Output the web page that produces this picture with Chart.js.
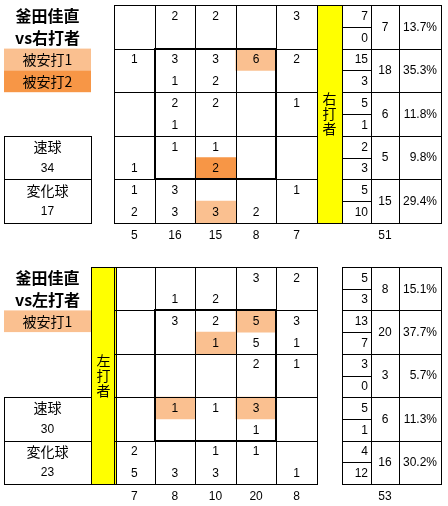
<!DOCTYPE html>
<html>
<head>
<meta charset="utf-8">
<script src="https://cdn.jsdelivr.net/npm/chart.js"></script>
<style>
  body { margin: 0; background: #fff; }
  #wrap { width: 448px; height: 506px; }
</style>
</head>
<body>
<div id="wrap"><canvas id="sheet"></canvas></div>
<script>
// ---- data ----
const pitcher = '釜田佳直';
const sideLabels = ['右打者', '左打者'];
const pitchLabels = ['速球', '変化球'];
const hitLabels = ['被安打1', '被安打2'];

// 5x5 zone, row 0 = high, col 0 = left; [fastball count, breaking count]
const rightFast = [
  [null, 2, 2, null, 3],
  [1, 3, 3, 6, 2],
  [null, 2, 2, null, 1],
  [null, 1, 1, null, null],
  [1, 3, null, null, 1]
];
const rightBreak = [
  [null, null, null, null, null],
  [null, 1, 2, null, null],
  [null, 1, null, null, null],
  [1, null, 2, null, null],
  [2, 3, 3, 2, null]
];
const rightFastHit = [
  [0, 0, 0, 0, 0],
  [0, 0, 0, 1, 0],
  [0, 0, 0, 0, 0],
  [0, 0, 0, 0, 0],
  [0, 0, 0, 0, 0]
];
const rightBreakHit = [
  [0, 0, 0, 0, 0],
  [0, 0, 0, 0, 0],
  [0, 0, 0, 0, 0],
  [0, 0, 2, 0, 0],
  [0, 0, 1, 0, 0]
];

const leftFast = [
  [null, null, null, 3, 2],
  [null, 3, 2, 5, 3],
  [null, null, null, 2, 1],
  [null, 1, 1, 3, null],
  [2, null, 1, 1, null]
];
const leftBreak = [
  [null, 1, 2, null, null],
  [null, null, 1, 5, 1],
  [null, null, null, null, null],
  [null, null, null, 1, null],
  [5, 3, 3, null, 1]
];
const leftFastHit = [
  [0, 0, 0, 0, 0],
  [0, 0, 0, 1, 0],
  [0, 0, 0, 0, 0],
  [0, 1, 0, 1, 0],
  [0, 0, 0, 0, 0]
];
const leftBreakHit = [
  [0, 0, 0, 0, 0],
  [0, 0, 1, 0, 0],
  [0, 0, 0, 0, 0],
  [0, 0, 0, 0, 0],
  [0, 0, 0, 0, 0]
];

// ---- layout (in canvas units, the scales run 0..448 / 0..506) ----
const hitFill = ['', '#FAC090', '#F79646'];
const GRID_X = 114, COL_W = 40.6, TABLE_X = 342, BOX_X = 4, BOX_W = 87, YEL_W = 25;
const SPLIT_W = 29, TOT_W = 28, PCT_W = 42;
const panels = [
  { side: 0, top: 5, rowH: 43.6, yellowX: 317, fast: rightFast, brk: rightBreak,
    fastHit: rightFastHit, brkHit: rightBreakHit, legend: [1, 2] },
  { side: 1, top: 267, rowH: 43.4, yellowX: 91, fast: leftFast, brk: leftBreak,
    fastHit: leftFastHit, brkHit: leftBreakHit, legend: [1] }
];

const sum = a => a.reduce((s, v) => s + (v || 0), 0);

// cell numbers and hit shading built from the arrays
const numberPoints = [];
const hitBars = [];
panels.forEach(p => {
  [p.fast, p.brk].forEach((grid, half) => {
    const hits = half ? p.brkHit : p.fastHit;
    grid.forEach((row, r) => row.forEach((v, c) => {
      const cx = GRID_X + (c + 0.5) * COL_W;
      const y0 = p.top + r * p.rowH + half * p.rowH / 2;
      if (hits[r][c]) hitBars.push({ x: cx, y: [y0, y0 + p.rowH / 2], level: hits[r][c] });
      if (v != null) numberPoints.push({ x: cx, y: y0 + p.rowH * 0.25 + 0.5, label: String(v) });
    }));
  });
});

const NUM_FONT = '12px "Liberation Sans", Arial, sans-serif';
const JP_FONT = '14px "Noto Sans CJK JP", sans-serif';
const TITLE_FONT = 'bold 16px "Noto Sans CJK JP", sans-serif';

const sheetPlugin = {
  id: 'sheet',
  beforeDatasetsDraw(chart) {
    const ctx = chart.ctx, X = v => chart.scales.x.getPixelForValue(v), Y = v => chart.scales.y.getPixelForValue(v);
    ctx.save();
    panels.forEach(p => {
      const bottom = p.top + 5 * p.rowH;
      ctx.fillStyle = '#FFFF00';
      ctx.fillRect(X(p.yellowX), Y(p.top), X(p.yellowX + YEL_W) - X(p.yellowX), Y(bottom) - Y(p.top));
      p.legend.forEach((lv, k) => {
        const y0 = p.top + p.rowH + k * p.rowH / 2;
        ctx.fillStyle = hitFill[lv];
        ctx.fillRect(X(BOX_X), Y(y0), X(BOX_X + BOX_W) - X(BOX_X), Y(y0 + p.rowH / 2) - Y(y0));
      });
    });
    ctx.restore();
  },
  afterDatasetsDraw(chart) {
    const ctx = chart.ctx, X = v => chart.scales.x.getPixelForValue(v), Y = v => chart.scales.y.getPixelForValue(v);
    const snap = (v, w) => (w % 2 ? Math.round(v) + 0.5 : Math.round(v));
    const hline = (x0, x1, y, w = 1) => {
      ctx.lineWidth = w; ctx.beginPath();
      const yy = snap(Y(y), w);
      ctx.moveTo(Math.round(X(x0)), yy); ctx.lineTo(Math.round(X(x1)) + 1, yy); ctx.stroke();
    };
    const vline = (x, y0, y1, w = 1) => {
      ctx.lineWidth = w; ctx.beginPath();
      const xx = snap(X(x), w);
      ctx.moveTo(xx, Math.round(Y(y0))); ctx.lineTo(xx, Math.round(Y(y1)) + 1); ctx.stroke();
    };
    const text = (s, x, y, font, align = 'center') => {
      ctx.font = font; ctx.textAlign = align; ctx.textBaseline = 'middle';
      ctx.fillText(s, X(x), Y(y));
    };

    ctx.save();
    ctx.strokeStyle = '#000';
    ctx.fillStyle = '#000';

    panels.forEach(p => {
      const top = p.top, rh = p.rowH, bottom = top + 5 * rh;
      const gridR = GRID_X + 5 * COL_W;
      const tableR = TABLE_X + SPLIT_W + TOT_W + PCT_W;

      // zone grid
      for (let r = 0; r <= 5; r++) hline(GRID_X, gridR, top + r * rh);
      for (let c = 0; c <= 5; c++) vline(GRID_X + c * COL_W, top, bottom);
      // yellow side bar outline
      hline(p.yellowX, p.yellowX + YEL_W, top);
      hline(p.yellowX, p.yellowX + YEL_W, bottom);
      vline(p.yellowX, top, bottom);
      vline(p.yellowX + YEL_W, top, bottom);
      // strike zone
      ctx.lineWidth = 2;
      ctx.strokeRect(Math.round(X(GRID_X + COL_W)), Math.round(Y(top + rh)),
        Math.round(X(GRID_X + 4 * COL_W)) - Math.round(X(GRID_X + COL_W)),
        Math.round(Y(top + 4 * rh)) - Math.round(Y(top + rh)));

      // right-hand table
      for (let r = 0; r <= 5; r++) hline(TABLE_X, tableR, top + r * rh);
      for (let r = 0; r < 5; r++) hline(TABLE_X, TABLE_X + SPLIT_W, top + r * rh + rh / 2);
      [0, SPLIT_W, SPLIT_W + TOT_W, SPLIT_W + TOT_W + PCT_W].forEach(dx => vline(TABLE_X + dx, top, bottom));

      // pitch type box
      hline(BOX_X, BOX_X + BOX_W, top + 3 * rh);
      hline(BOX_X, BOX_X + BOX_W, top + 4 * rh);
      hline(BOX_X, BOX_X + BOX_W, bottom);
      vline(BOX_X, top + 3 * rh, bottom);
      vline(BOX_X + BOX_W, top + 3 * rh, bottom);

      // totals
      const grand = sum(p.fast.map(sum)) + sum(p.brk.map(sum));
      const fastTotal = sum(p.fast.map(sum)), brkTotal = sum(p.brk.map(sum));
      for (let r = 0; r < 5; r++) {
        const f = sum(p.fast[r]), b = sum(p.brk[r]), t = f + b;
        text(String(f), TABLE_X + SPLIT_W - 3, top + r * rh + rh * 0.25 + 0.5, NUM_FONT, 'right');
        text(String(b), TABLE_X + SPLIT_W - 3, top + r * rh + rh * 0.75 + 0.5, NUM_FONT, 'right');
        text(String(t), TABLE_X + SPLIT_W + TOT_W / 2, top + r * rh + rh / 2 + 0.5, NUM_FONT);
        text((t / grand * 100).toFixed(1) + '%', tableR - 4, top + r * rh + rh / 2 + 0.5, NUM_FONT, 'right');
      }
      for (let c = 0; c < 5; c++) {
        let t = 0;
        for (let r = 0; r < 5; r++) t += (p.fast[r][c] || 0) + (p.brk[r][c] || 0);
        text(String(t), GRID_X + (c + 0.5) * COL_W, bottom + 12.5, NUM_FONT);
      }
      text(String(grand), TABLE_X + SPLIT_W + TOT_W / 2, bottom + 12.5, NUM_FONT);

      // left labels
      const bx = BOX_X + BOX_W / 2;
      text(pitcher, bx, top + 10.5, TITLE_FONT);
      text('vs' + sideLabels[p.side], bx, top + 32.5, TITLE_FONT);
      p.legend.forEach((lv, k) => text(hitLabels[lv - 1], bx, top + rh + k * rh / 2 + rh / 4 + 0.5, JP_FONT));
      text(pitchLabels[0], bx, top + 3 * rh + rh * 0.25, JP_FONT);
      text(String(fastTotal), bx, top + 3 * rh + rh * 0.75, NUM_FONT);
      text(pitchLabels[1], bx, top + 4 * rh + rh * 0.25, JP_FONT);
      text(String(brkTotal), bx, top + 4 * rh + rh * 0.75, NUM_FONT);

      // vertical side label
      const chars = [...sideLabels[p.side]];
      const mid = (top + bottom) / 2;
      chars.forEach((ch, i) => text(ch, p.yellowX + YEL_W / 2, mid + (i - 1) * 15, JP_FONT));
    });

    // cell numbers from the scatter elements
    const meta = chart.getDatasetMeta(1);
    ctx.font = NUM_FONT; ctx.textAlign = 'center'; ctx.textBaseline = 'middle';
    meta.data.forEach((el, i) => ctx.fillText(numberPoints[i].label, el.x, el.y));
    ctx.restore();
  }
};

new Chart(document.getElementById('sheet'), {
  type: 'scatter',
  data: {
    datasets: [
      {
        type: 'bar',
        data: hitBars,
        backgroundColor: c => hitFill[c.raw ? c.raw.level : 1],
        borderWidth: 0,
        barThickness: COL_W,
        order: 2
      },
      {
        type: 'scatter',
        data: numberPoints,
        pointRadius: 0,
        order: 1
      }
    ]
  },
  options: {
    responsive: true,
    maintainAspectRatio: false,
    animation: false,
    events: [],
    layout: { padding: 0 },
    plugins: { legend: { display: false }, tooltip: { enabled: false } },
    scales: {
      x: { type: 'linear', min: 0, max: 448, offset: false, display: false },
      y: { type: 'linear', min: 0, max: 506, reverse: true, display: false }
    }
  },
  plugins: [sheetPlugin]
});
</script>
</body>
</html>
